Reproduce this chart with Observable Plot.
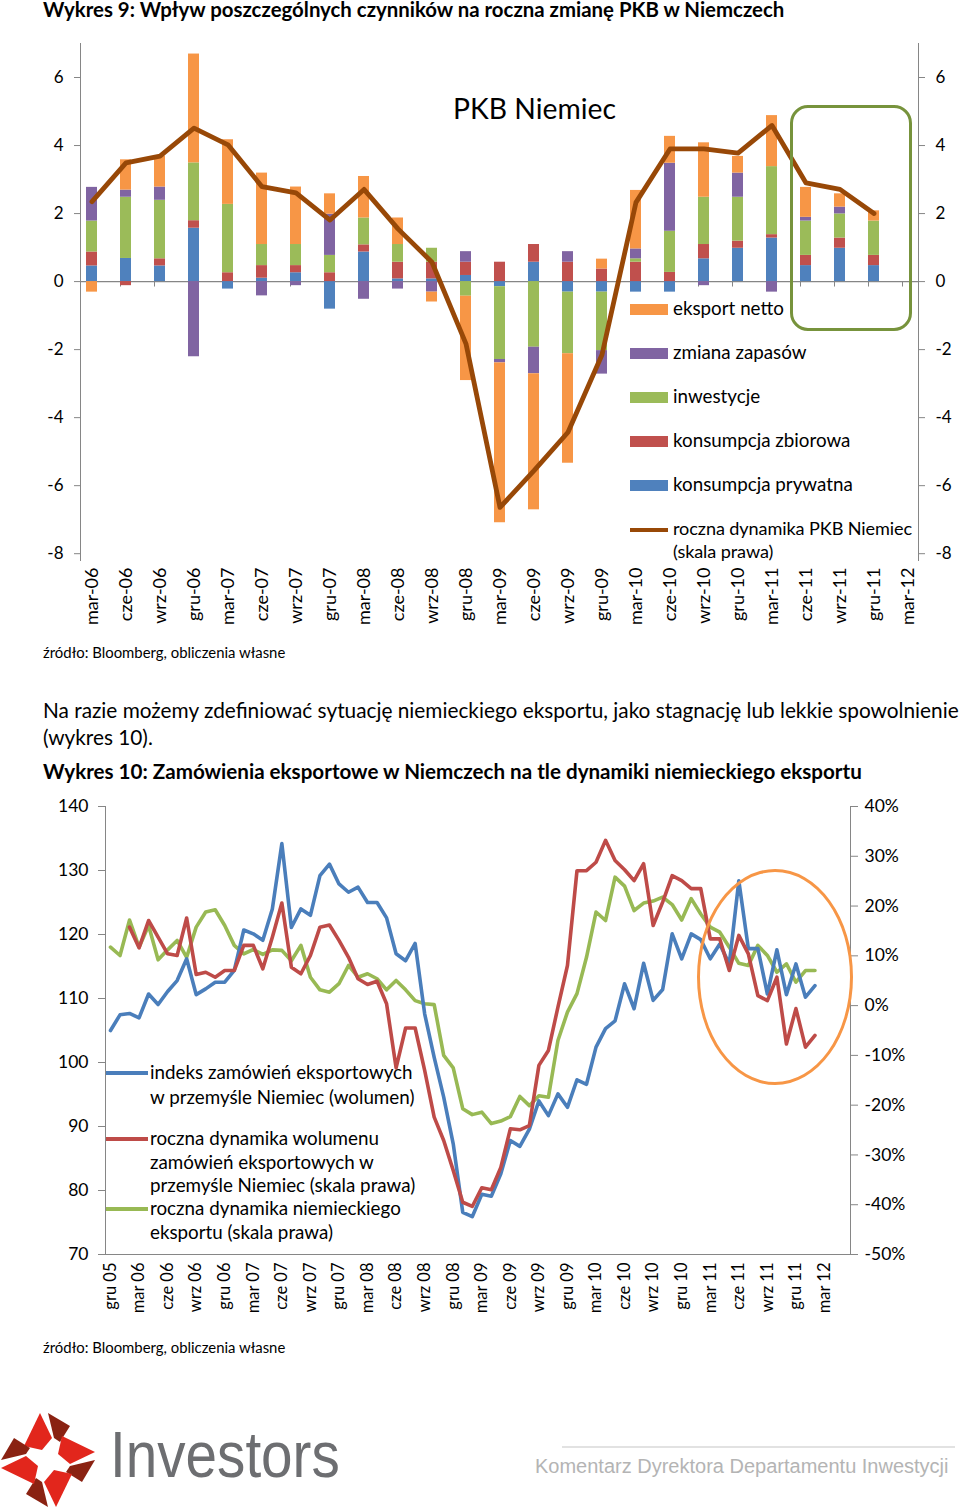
<!DOCTYPE html>
<html>
<head>
<meta charset="utf-8">
<script src="https://cdn.jsdelivr.net/npm/d3@7"></script>
<script src="https://cdn.jsdelivr.net/npm/@observablehq/plot@0.6"></script>
<style>
  html, body { margin: 0; padding: 0; background: #fff; }
  body { width: 960px; height: 1509px; position: relative; overflow: hidden; font-family: Lato, "Open Sans", sans-serif; color: #000; }
  .abs { position: absolute; }
  .title { font-weight: bold; font-size: 20.4px; white-space: nowrap; }
  .src { font-size: 14.9px; white-space: nowrap; }
  .para { font-size: 20.8px; white-space: nowrap; }
  .leg1 { font-size: 18.8px; white-space: nowrap; line-height: 23px; }
  .sw { position: absolute; width: 38px; height: 11px; }
  .leg2 { font-size: 18.8px; white-space: nowrap; }
  .ln { position: absolute; height: 4px; width: 42px; }
</style>
</head>
<body>
<div class="abs title" style="left:43px; top:-3px;">Wykres 9: Wpływ poszczególnych czynników na roczna zmianę PKB w Niemczech</div>
<div id="chart1" class="abs" style="left:0; top:0;"></div>
<div class="abs" style="left:453px; top:91px; font-size:28.3px; white-space:nowrap;">PKB Niemiec</div>
<div class="abs" style="left:790px; top:105px; width:116px; height:220px; border:3px solid #77933C; border-radius:18px;"></div>
<div id="legend1" class="abs" style="left:630px; top:296px; width:289px; height:280px;"></div>
<div class="abs src" style="left:43px; top:643px;">źródło: Bloomberg, obliczenia własne</div>
<div class="abs para" style="left:43px; top:697px;">Na razie możemy zdefiniować sytuację niemieckiego eksportu, jako stagnację lub lekkie spowolnienie</div>
<div class="abs para" style="left:43px; top:724px;">(wykres 10).</div>
<div class="abs title" style="left:43px; top:759px; font-size:20.6px;">Wykres 10: Zamówienia eksportowe w Niemczech na tle dynamiki niemieckiego eksportu</div>
<div id="chart2" class="abs" style="left:0; top:790px;"></div>
<div class="abs" style="left:697px; top:869px; width:150px; height:210px; border:3px solid #F79646; border-radius:50%;"></div>
<div id="legend2" class="abs" style="left:105px; top:1060px; width:340px; height:190px;"></div>
<div class="abs src" style="left:43px; top:1338px;">źródło: Bloomberg, obliczenia własne</div>

<svg class="abs" style="left:0; top:1405px;" width="110" height="104" id="logo"></svg>
<div class="abs" style="left:110px; top:1418px; font-family:'Liberation Sans Narrow','Liberation Sans',sans-serif; font-size:64px; color:#6d6e71; transform:scaleX(0.885); transform-origin:0 0; white-space:nowrap;">Investors</div>
<div class="abs" style="left:562px; top:1446px; width:393px; height:2px; background:#e2e2e2;"></div>
<div class="abs" style="left:535px; top:1455px; font-family:'Liberation Sans Narrow','Liberation Sans',sans-serif; font-size:20px; color:#b4b4b4; white-space:nowrap;">Komentarz Dyrektora Departamentu Inwestycji</div>

<script>
// ---------------- Chart 1 data ----------------
const categories = ["mar-06","cze-06","wrz-06","gru-06","mar-07","cze-07","wrz-07","gru-07","mar-08","cze-08","wrz-08","gru-08","mar-09","cze-09","wrz-09","gru-09","mar-10","cze-10","wrz-10","gru-10","mar-11","cze-11","wrz-11","gru-11","mar-12"];
const konsumpcjaPrywatna = [0.46,0.68,0.46,1.57,-0.22,0.10,0.26,-0.81,0.87,0.08,0.08,0.18,-0.15,0.57,-0.31,-0.31,-0.31,-0.31,0.67,0.98,1.28,0.47,0.98,0.47];
const konsumpcjaZbiorowa = [0.41,-0.12,0.21,0.22,0.26,0.37,0.21,0.26,0.21,0.49,0.49,0.39,0.57,0.52,0.57,0.37,0.57,0.27,0.42,0.21,0.10,0.30,0.30,0.30];
const inwestycje = [0.91,1.80,1.72,1.70,2.01,0.62,0.62,0.51,0.79,0.52,0.41,-0.43,-2.14,-1.93,-1.81,-1.72,0.10,1.21,1.39,1.29,2.00,1.01,0.71,1.01];
const zmianaZapasow = [0.99,0.21,0.39,-2.21,0,-0.42,-0.12,1.21,-0.52,-0.22,-0.31,0.31,-0.10,-0.78,0.31,-0.69,0.29,2.00,-0.12,0.71,-0.31,0.11,0.20,0];
const eksportNetto = [-0.31,0.89,0.91,3.20,1.90,2.10,1.69,0.60,1.22,0.78,-0.29,-2.48,-4.70,-4.00,-3.22,0.29,1.72,0.79,1.60,0.49,1.50,0.88,0.39,0.30];
const dynamikaPKB = [2.35,3.49,3.69,4.51,4.02,2.79,2.61,1.81,2.71,1.55,0.57,-1.83,-6.64,-5.56,-4.43,-2.15,2.33,3.90,3.90,3.78,4.59,2.90,2.71,2.00];
const yTicks1 = [-8,-6,-4,-2,0,2,4,6];

const seriesNames1 = ["konsumpcja prywatna","konsumpcja zbiorowa","inwestycje","zmiana zapasów","eksport netto"];
const seriesColors1 = ["#4F81BD","#C0504D","#9BBB59","#8064A2","#F79646"];
const lineColor1 = "#984807";

// ---------------- Chart 2 data ----------------
const quarterLabels = ["gru 05","mar 06","cze 06","wrz 06","gru 06","mar 07","cze 07","wrz 07","gru 07","mar 08","cze 08","wrz 08","gru 08","mar 09","cze 09","wrz 09","gru 09","mar 10","cze 10","wrz 10","gru 10","mar 11","cze 11","wrz 11","gru 11","mar 12"];
const indeksZamowien = [105.0,107.45,107.66,106.98,110.7,109.06,111.1,112.8,116.2,110.6,111.5,112.55,112.55,114.4,120.7,120.1,119.1,124.0,134.2,121.1,124.0,123.0,129.2,131.0,127.9,126.6,127.4,125.0,125.0,122.6,117.0,115.9,118.6,107.6,100.8,94.6,87.3,76.6,75.9,79.4,79.1,82.6,87.8,86.9,89.6,94.0,91.7,95.1,93.0,97.3,96.6,102.4,105.3,106.5,112.3,108.4,115.5,109.7,111.4,120.1,116.2,120.1,119.2,116.2,118.5,115.4,128.4,117.8,117.8,110.7,117.6,110.6,115.4,110.2,112.0];
const dynamikaZamowien = [null,null,15.76,11.6,17.1,13.75,10.4,10.07,17.6,6.25,6.7,5.7,7.05,7.05,12.1,12.1,7.4,13.75,20.6,7.7,6.4,10.07,15.76,16.2,13.1,9.7,5.4,4.25,4.9,0.36,-12.5,-4.5,-4.5,-13.0,-22.4,-27.1,-33.1,-39.5,-40.35,-36.6,-37.0,-32.5,-24.75,-24.95,-24.1,-12.0,-9.0,-0.3,8.06,27.1,27.1,28.8,33.2,29.15,27.3,25.1,28.5,16.1,20.8,26.1,25.1,23.5,23.5,13.4,13.4,7.05,14.1,10.4,2.0,1.0,5.7,-7.7,-0.6,-8.35,-6.0];
const dynamikaEksportu = [11.74,10.07,17.2,11.74,16.1,9.2,11.2,13.1,9.7,15.76,18.8,19.25,16.1,12.1,10.4,11.27,10.3,11.2,11.1,9.0,12.1,5.7,3.17,2.7,4.4,8.06,5.7,6.4,5.4,3.17,5.05,3.17,1.0,0.36,0.2,-10.0,-12.5,-20.7,-21.9,-21.4,-23.7,-23.2,-22.3,-18.25,-20.1,-18.1,-18.4,-7.0,-1.3,2.4,9.7,18.8,17.1,25.8,24.0,19.1,20.6,21.0,21.8,20.3,17.2,21.5,18.4,15.76,14.75,11.74,8.5,8.06,12.1,10.07,6.7,8.4,4.7,7.05,7.05];
const yTicksLeft2 = [70,80,90,100,110,120,130,140];
const yTicksRight2 = [-50,-40,-30,-20,-10,0,10,20,30,40];
const seriesColors2 = ["#4A7EBB","#BE4B48","#98B954"];

// ---------------- Chart 1 ----------------
const seriesArrays1 = [konsumpcjaPrywatna, konsumpcjaZbiorowa, inwestycje, zmianaZapasow, eksportNetto];
const bars1 = [];
seriesArrays1.forEach((arr, s) => arr.forEach((v, i) => bars1.push({cat: categories[i], series: seriesNames1[s], value: v})));
const line1 = dynamikaPKB.map((v, i) => ({cat: categories[i], value: v}));

const axisGray = "#868686";
const chart1 = Plot.plot({
  width: 960, height: 640,
  marginLeft: 80, marginRight: 42, marginTop: 43, marginBottom: 80,
  style: {fontFamily: "Lato, sans-serif", fontSize: "17px", color: "#000", background: "transparent", overflow: "visible"},
  x: {type: "band", domain: categories, paddingInner: 0.68, paddingOuter: 0.04, label: null},
  y: {domain: [-8.2, 7], label: null},
  color: {domain: seriesNames1, range: seriesColors1},
  marks: [
    Plot.ruleY([0], {stroke: axisGray, strokeWidth: 1.2}),
    Plot.ruleX(categories.slice(1), {x: d => d, y1: 0, y2: -0.16, dx: -5.5, stroke: axisGray}),
    Plot.barY(bars1, {x: "cat", y: "value", fill: "series"}),
    Plot.line(line1, {x: "cat", y: "value", stroke: lineColor1, strokeWidth: 4.8, strokeLinejoin: "round"}),
    Plot.frame({anchor: "left", stroke: axisGray}),
    Plot.frame({anchor: "right", stroke: axisGray}),
    Plot.axisY(yTicks1, {anchor: "left", label: null, tickSize: 6, tickPadding: 11, stroke: axisGray, fill: "#000", tickFormat: d => d}),
    Plot.axisY(yTicks1, {anchor: "right", label: null, tickSize: 6, tickPadding: 11, stroke: axisGray, fill: "#000", tickFormat: d => d}),
    Plot.axisX({anchor: "bottom", label: null, tickSize: 0, tickPadding: 7, tickRotate: -90, fill: "#000", fontSize: 18})
  ]
});
document.getElementById("chart1").appendChild(chart1);

// legend 1
const leg1 = document.getElementById("legend1");
const legOrder = [4,3,2,1,0];
legOrder.forEach((s, k) => {
  const top = k * 44.1;
  leg1.insertAdjacentHTML("beforeend",
    `<div class="sw" style="left:0; top:${top + 8}px; background:${seriesColors1[s]}"></div>` +
    `<div class="abs leg1" style="left:43px; top:${top}px;">${seriesNames1[s]}</div>`);
});
leg1.insertAdjacentHTML("beforeend",
  `<div class="sw" style="left:0; top:${5*44.1 + 11}px; height:4.5px; background:${lineColor1}"></div>` +
  `<div class="abs leg1" style="left:43px; top:${5*44.1}px; font-size:18.1px; letter-spacing:-0.1px;">roczna dynamika PKB Niemiec<br>(skala prawa)</div>`);

// ---------------- Chart 2 ----------------
const toLeft = p => 70 + (p + 50) * 70 / 90;
const quarterIdx = quarterLabels.map((_, k) => k * 3);
const chart2 = Plot.plot({
  width: 960, height: 540,
  marginLeft: 105, marginRight: 110, marginTop: 16, marginBottom: 76,
  style: {fontFamily: "Lato, sans-serif", fontSize: "17.5px", color: "#000", background: "transparent", overflow: "visible"},
  x: {type: "linear", domain: [0, 75], range: [110, 824], label: null},
  y: {domain: [70, 140], label: null},
  marks: [
    Plot.frame({anchor: "left", stroke: axisGray}),
    Plot.frame({anchor: "right", stroke: axisGray}),
    Plot.frame({anchor: "bottom", stroke: axisGray}),
    Plot.axisY(yTicksLeft2, {anchor: "left", label: null, tickSize: 7, tickPadding: 10, stroke: axisGray, fill: "#000", tickFormat: d => d}),
    Plot.axisY(yTicksRight2.map(toLeft), {anchor: "right", label: null, tickSize: 7, tickPadding: 7, stroke: axisGray, fill: "#000",
      tickFormat: v => Math.round((v - 70) * 90 / 70 - 50) + "%"}),
    Plot.axisX(quarterIdx, {anchor: "bottom", label: null, tickSize: 0, tickPadding: 8, tickRotate: -90, fill: "#000", fontSize: 16.5,
      tickFormat: d => quarterLabels[d / 3]}),
    Plot.line(dynamikaEksportu, {x: (d, i) => i, y: d => d == null ? NaN : toLeft(d), stroke: seriesColors2[2], strokeWidth: 3.6, strokeLinejoin: "round"}),
    Plot.line(indeksZamowien, {x: (d, i) => i, y: d => d, stroke: seriesColors2[0], strokeWidth: 3.6, strokeLinejoin: "round"}),
    Plot.line(dynamikaZamowien, {x: (d, i) => i, y: d => d == null ? NaN : toLeft(d), stroke: seriesColors2[1], strokeWidth: 3.6, strokeLinejoin: "round"})
  ]
});
document.getElementById("chart2").appendChild(chart2);

// legend 2
const leg2 = document.getElementById("legend2");
const leg2Items = [
  {color: seriesColors2[0], top: 0, lh: 24.5, text: "indeks zamówień eksportowych<br>w przemyśle Niemiec (wolumen)"},
  {color: seriesColors2[1], top: 66, lh: 23.5, text: "roczna dynamika wolumenu<br>zamówień eksportowych w<br>przemyśle Niemiec (skala prawa)"},
  {color: seriesColors2[2], top: 136, lh: 24, text: "roczna dynamika niemieckiego<br>eksportu (skala prawa)"}
];
leg2Items.forEach(it => {
  leg2.insertAdjacentHTML("beforeend",
    `<div class="ln" style="left:1px; top:${it.top + 11}px; background:${it.color}"></div>` +
    `<div class="abs leg2" style="left:45px; top:${it.top}px; line-height:${it.lh}px;">${it.text}</div>`);
});

// ---------------- Logo ----------------
(function () {
  const svg = d3.select("#logo");
  const g = svg.append("g").attr("transform", "translate(48,55)");
  const red = [[-8,-47],[4,-22],[-6,-10],[-24,-14]];
  const dark = [[0,-47],[22,-34],[12,-18],[6,-22]];
  for (let k = 0; k < 4; k++) {
    const a = g.append("g").attr("transform", `rotate(${k * 90})`);
    a.append("polygon").attr("points", red.map(p => p.join(",")).join(" ")).attr("fill", "#E2261C");
    a.append("polygon").attr("points", dark.map(p => p.join(",")).join(" ")).attr("fill", "#8A2212");
  }
})();
</script>
</body>
</html>
